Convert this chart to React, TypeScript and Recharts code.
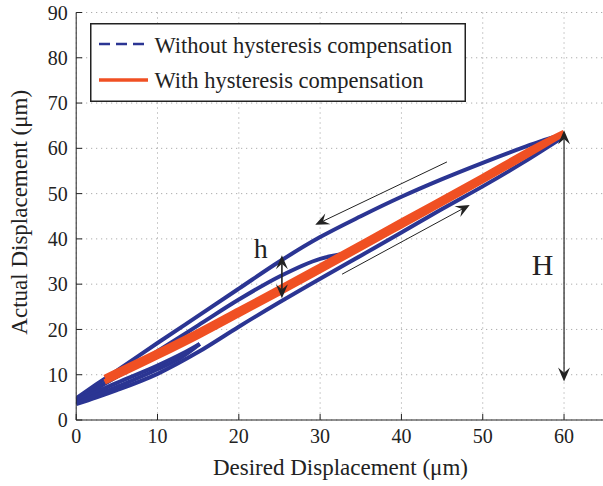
import React from 'react';
import {
  LineChart,
  Line,
  XAxis,
  YAxis,
  CartesianGrid,
  ReferenceLine,
  ReferenceDot,
  Legend,
} from 'recharts';

const BLUE = '#2b3593';
const ORANGE = '#f05023';
const INK = '#222222';
const FONT = '"Liberation Serif", "Times New Roman", Times, serif';

// ---------- axes ----------
const xTicks = [0, 10, 20, 30, 40, 50, 60];
const yTicks = [0, 10, 20, 30, 40, 50, 60, 70, 80, 90];
const xDomain: [number, number] = [0, 65];
const yDomain: [number, number] = [0, 90];

// ---------- series: without compensation (blue), branches as [x, y] ----------
const majorUpper: [number, number][] = [
  [0, 4.8], [2.5, 7.9], [5, 10.9], [10, 17.0], [15, 23.0], [20, 29.0], [25, 35.0],
  [30, 40.4], [35, 45.0], [40, 49.3], [45, 53.2], [50, 56.8], [55, 60.2], [58, 62.1], [60, 63.0],
];
const majorLower: [number, number][] = [
  [0, 3.5], [2.5, 5.0], [5, 6.6], [10, 10.2], [15, 15.0], [20, 20.6], [25, 26.0],
  [30, 31.2], [35, 36.3], [40, 41.4], [45, 46.6], [50, 51.6], [55, 56.9], [60, 62.6],
];
const minorUpper: [number, number][] = [
  [0, 4.4], [5, 9.6], [10, 15.2], [15, 20.9], [20, 26.6], [25, 31.7], [30, 35.6], [34, 37.0],
];
const minorLower: [number, number][] = [
  [0, 4.0], [3.5, 8.1], [10, 14.2], [20, 23.6], [30, 33.4], [34, 37.0],
];
const smallUpper: [number, number][] = [
  [0, 4.2], [5, 8.2], [10, 12.0], [13, 14.6], [15.2, 16.8],
];
const smallLower: [number, number][] = [
  [0, 3.7], [5, 7.3], [10, 11.2], [13, 13.9], [15.2, 16.8],
];

// ---------- series: with compensation (orange band edges) ----------
const compLower: [number, number][] = [
  [3.5, 8.4], [10, 14.0], [15, 18.5], [20, 23.3], [25, 28.1], [30, 33.0],
  [40, 42.9], [50, 52.85], [57, 60.1], [60, 63.3],
];
const compUpper: [number, number][] = [
  [3.5, 9.4], [10, 15.0], [15, 19.5], [20, 24.3], [25, 29.1], [30, 34.0],
  [40, 43.9], [50, 53.75], [57, 60.8], [60, 63.5],
];

const blueBranches = [majorUpper, majorLower, minorUpper, minorLower, smallUpper, smallLower];
const orangeBranches = [compLower, compUpper];

// ---------- legend ----------
const legendNames = ['Without hysteresis compensation', 'With hysteresis compensation'];
const legendColors = [BLUE, ORANGE];
const legendDash = ['11 6', ''];

// ---------- annotations ----------
const arrowFrom: [number, number][] = [[45.6, 57.0], [32.7, 32.2], [25.3, 26.9], [60, 8.5]];
const arrowTo: [number, number][] = [[29.4, 43.1], [48.4, 47.5], [25.3, 36.4], [60, 64.0]];
const arrowDouble = [false, false, true, true];
const arrowWidth = [1, 1, 1.6, 1.2];

const noteText = ['h', 'H'];
const noteAt: [number, number][] = [[22.7, 37.9], [57.35, 34.4]];
const noteSize = [28, 30];

const toPts = (arr: [number, number][]) => arr.map(([x, y]) => ({ x, y }));

const HEAD_L = 14;
const HEAD_W = 6;
function head(tx: number, ty: number, fx: number, fy: number) {
  const dx = fx - tx;
  const dy = fy - ty;
  const len = Math.hypot(dx, dy) || 1;
  const ux = dx / len;
  const uy = dy / len;
  const px = -uy;
  const py = ux;
  const bx = tx + ux * HEAD_L;
  const by = ty + uy * HEAD_L;
  const nx = tx + ux * HEAD_L * 0.62;
  const ny = ty + uy * HEAD_L * 0.62;
  return {
    d: `M${tx},${ty}L${bx + px * HEAD_W},${by + py * HEAD_W}L${nx},${ny}L${bx - px * HEAD_W},${by - py * HEAD_W}Z`,
    nx,
    ny,
  };
}

const makeArrow = (double: boolean, w: number) => (props: any) => {
  const x1 = Number(props.x1);
  const y1 = Number(props.y1);
  const x2 = Number(props.x2);
  const y2 = Number(props.y2);
  const h2 = head(x2, y2, x1, y1);
  let sx = x1;
  let sy = y1;
  let h1: { d: string; nx: number; ny: number } | null = null;
  if (double) {
    h1 = head(x1, y1, x2, y2);
    sx = h1.nx;
    sy = h1.ny;
  }
  return (
    <g>
      <line x1={sx} y1={sy} x2={h2.nx} y2={h2.ny} stroke={INK} strokeWidth={w} />
      <path d={h2.d} fill={INK} />
      {h1 && <path d={h1.d} fill={INK} />}
    </g>
  );
};

const renderLegend = () => (
  <svg width={376} height={79} style={{ display: 'block' }}>
    <rect x={0.75} y={0.75} width={374.5} height={77.5} fill="#ffffff" stroke={INK} strokeWidth={1.5} />
    {legendNames.map((name, i) => (
      <g key={name}>
        <line
          x1={9}
          x2={58}
          y1={21 + 36 * i}
          y2={21 + 36 * i}
          stroke={legendColors[i]}
          strokeWidth={legendDash[i] ? 2.6 : 3.4}
          strokeDasharray={legendDash[i] || undefined}
        />
        <text x={64.5} y={29.5 + 35.5 * i} fontSize={22.5} fill={INK} fontFamily={FONT}>
          {name}
        </text>
      </g>
    ))}
  </svg>
);

const YLabel = (p: any) => {
  const vb = p.viewBox || { x: 0, y: 0, width: 0, height: 0 };
  const cx = 27;
  const cy = vb.y + vb.height / 2 - 4;
  return (
    <text
      x={cx}
      y={cy}
      transform={`rotate(-90, ${cx}, ${cy})`}
      textAnchor="middle"
      fontSize={23}
      fill={INK}
      fontFamily={FONT}
    >
      Actual Displacement (μm)
    </text>
  );
};

const tickStyle = { fill: INK, fontSize: 20, fontFamily: FONT };

export default function App() {
  return (
    <div
      style={{
        position: 'absolute',
        left: 0,
        top: 0,
        width: 603,
        height: 486,
        overflow: 'hidden',
        fontFamily: FONT,
        background: '#fff',
      }}
    >
      <LineChart
        width={608}
        height={486}
        margin={{ top: 12.5, right: 3.3, bottom: 0, left: 0 }}
        style={{ fontFamily: FONT }}
      >
        <CartesianGrid stroke="#9a9a9a" strokeDasharray="1 4" strokeWidth={1} />
        <XAxis
          type="number"
          dataKey="x"
          domain={xDomain}
          ticks={xTicks}
          interval={0}
          allowDataOverflow
          height={66}
          tickSize={-6}
          tickMargin={15}
          stroke={INK}
          tick={tickStyle}
          label={{
            value: 'Desired Displacement (μm)',
            position: 'insideBottom',
            offset: 11,
            fontSize: 23,
            fill: INK,
            fontFamily: FONT,
          }}
        />
        <XAxis
          xAxisId="top"
          orientation="top"
          type="number"
          domain={xDomain}
          ticks={xTicks}
          interval={0}
          allowDataOverflow
          height={0}
          tickSize={-6}
          stroke={INK}
          tickFormatter={() => ''}
        />
        <YAxis
          type="number"
          domain={yDomain}
          ticks={yTicks}
          interval={0}
          allowDataOverflow
          width={76.2}
          tickSize={-6}
          tickMargin={14.5}
          stroke={INK}
          tick={tickStyle}
          label={{ content: <YLabel /> }}
        />
        <YAxis
          yAxisId="right"
          orientation="right"
          type="number"
          domain={yDomain}
          ticks={yTicks}
          interval={0}
          allowDataOverflow
          width={0}
          tickSize={-6}
          stroke={INK}
          tickFormatter={() => ''}
        />
        {blueBranches.map((b, i) => (
          <Line
            key={`b${i}`}
            data={toPts(b)}
            dataKey="y"
            type="monotone"
            stroke={BLUE}
            strokeWidth={4}
            dot={false}
            activeDot={false}
            isAnimationActive={false}
            legendType="none"
          />
        ))}
        {orangeBranches.map((b, i) => (
          <Line
            key={`o${i}`}
            data={toPts(b)}
            dataKey="y"
            type="monotone"
            stroke={ORANGE}
            strokeWidth={5.5}
            dot={false}
            activeDot={false}
            isAnimationActive={false}
            legendType="none"
          />
        ))}
        {arrowFrom.map((f, i) => (
          <ReferenceLine
            key={`a${i}`}
            segment={[{ x: f[0], y: f[1] }, { x: arrowTo[i][0], y: arrowTo[i][1] }]}
            stroke={INK}
            ifOverflow="visible"
            shape={makeArrow(arrowDouble[i], arrowWidth[i])}
          />
        ))}
        {noteText.map((t, i) => (
          <ReferenceDot
            key={`n${i}`}
            x={noteAt[i][0]}
            y={noteAt[i][1]}
            r={0.01}
            fill="none"
            stroke="none"
            ifOverflow="visible"
            label={{ value: t, position: 'center', fontSize: noteSize[i], fill: INK, fontFamily: FONT }}
          />
        ))}
        <Legend
          layout="horizontal"
          align="center"
          verticalAlign="middle"
          content={renderLegend}
          wrapperStyle={{ position: 'absolute', left: 90, top: 23, width: 376, height: 79 }}
        />
      </LineChart>
    </div>
  );
}
